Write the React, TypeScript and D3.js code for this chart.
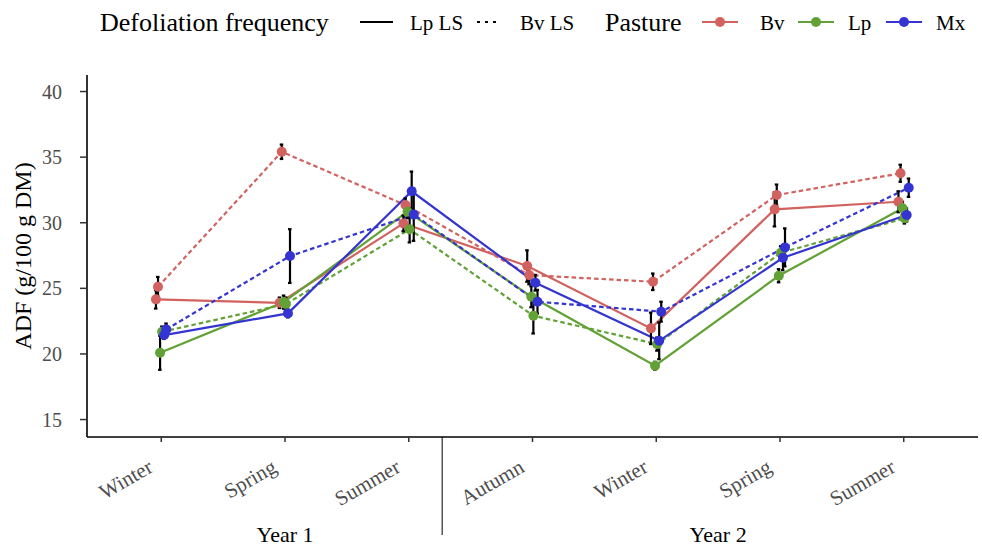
import React from "react";
import * as d3 from "d3";

// ---- data ----
const seasons = ["Winter", "Spring", "Summer", "Autumn", "Winter", "Spring", "Summer"];
const years = ["Year 1", "Year 2"];
const yearStart = [0, 3];
const yearEnd = [2, 6];
const yTicks = [15, 20, 25, 30, 35, 40];

const pastures = ["Bv", "Lp", "Mx"];
const pastureColors = ["#d2625f", "#62a136", "#3434d2"];
const defoliations = ["Lp LS", "Bv LS"];

// ADF means (g/100 g DM)
const bvLpLS = [24.16, 23.9, 29.95, 26.7, 21.95, 31.02, 31.6];
const bvBvLS = [25.12, 35.41, 31.35, 26.01, 25.5, 32.11, 33.77];
const lpLpLS = [20.09, 23.95, 30.84, 24.36, 19.1, 25.96, 31.1];
const lpBvLS = [21.69, 23.8, 29.5, 22.91, 20.75, 27.71, 30.34];
const mxLpLS = [21.44, 23.09, 32.4, 25.43, 21.0, 27.33, 30.59];
const mxBvLS = [21.87, 27.46, 30.62, 23.98, 23.22, 28.12, 32.67];

// standard errors
const bvLpLSse = [0.7, 0.4, 0.6, 1.2, 1.2, 1.3, 0.8];
const bvBvLSse = [0.75, 0.55, 0.5, 0.7, 0.63, 0.8, 0.65];
const lpLpLSse = [1.3, 0.5, 0.5, 0.8, 0.3, 0.5, 0.5];
const lpBvLSse = [0.4, 0.5, 1.0, 1.35, 0.5, 0.5, 0.4];
const mxLpLSse = [0.3, 0.3, 1.5, 0.6, 1.4, 0.95, 0.5];
const mxBvLSse = [0.45, 2.05, 2.0, 0.9, 0.76, 1.45, 0.7];

const series = [
  { key: "Bv-LpLS", pasture: 0, defol: 0, values: bvLpLS, se: bvLpLSse },
  { key: "Bv-BvLS", pasture: 0, defol: 1, values: bvBvLS, se: bvBvLSse },
  { key: "Lp-LpLS", pasture: 1, defol: 0, values: lpLpLS, se: lpLpLSse },
  { key: "Lp-BvLS", pasture: 1, defol: 1, values: lpBvLS, se: lpBvLSse },
  { key: "Mx-LpLS", pasture: 2, defol: 0, values: mxLpLS, se: mxLpLSse },
  { key: "Mx-BvLS", pasture: 2, defol: 1, values: mxBvLS, se: mxBvLSse },
];

const FONT = "'Liberation Serif', 'Times New Roman', serif";
const W = 982;
const H = 549;
const plotLeft = 87;
const plotRight = 978;
const plotTop = 75;
const plotBottom = 437;
const DOT = "4.5,3";

export default function App() {
  const idx = d3.range(seasons.length);
  const x = d3.scalePoint<number>().domain(idx).range([plotLeft, plotRight]).padding(0.6);
  const step = x.step();
  const y = d3.scaleLinear().domain([13.67, 41.26]).range([plotBottom, plotTop]);
  const dodge = d3.scalePoint<string>().domain(series.map((s) => s.key)).range([-5.3, 5.0]);

  const sepX = (x(2) as number) + 0.27 * step;

  return (
    <svg
      width={W}
      height={H}
      style={{ position: "absolute", left: 0, top: 0, background: "#fff", fontFamily: FONT }}
    >
      <rect x={0} y={0} width={W} height={H} fill="#fff" />

      {/* legend */}
      <g>
        <text x={100} y={31} fontSize={26} fill="#000">Defoliation frequency</text>
        <line x1={360} x2={393} y1={22} y2={22} stroke="#000" strokeWidth={2.2} />
        <text x={410} y={30} fontSize={21} fill="#000">{defoliations[0]}</text>
        <line x1={477} x2={499} y1={22} y2={22} stroke="#000" strokeWidth={2.2} strokeDasharray="3,5" />
        <text x={520} y={30} fontSize={21} fill="#000">{defoliations[1]}</text>
        <text x={605} y={31} fontSize={26} fill="#000">Pasture</text>
        {pastures.map((p, i) => {
          const kx = [702, 798, 886][i];
          const tx = [760, 848, 936][i];
          return (
            <g key={p}>
              <line x1={kx} x2={kx + 36} y1={22} y2={22} stroke={pastureColors[i]} strokeWidth={2.2} />
              <circle cx={kx + 18} cy={22} r={5} fill={pastureColors[i]} />
              <text x={tx} y={30} fontSize={21} fill="#000">{p}</text>
            </g>
          );
        })}
      </g>

      {/* y axis */}
      <line x1={plotLeft} x2={plotLeft} y1={plotTop} y2={plotBottom} stroke="#000" strokeWidth={1.6} />
      {yTicks.map((t) => (
        <g key={t}>
          <line x1={plotLeft - 7} x2={plotLeft} y1={y(t)} y2={y(t)} stroke="#333" strokeWidth={1.5} />
          <text x={62} y={y(t)} dy="0.35em" textAnchor="end" fontSize={20} fill="#4d4d4d">{t}</text>
        </g>
      ))}
      <text
        transform={`translate(31,${(plotTop + plotBottom) / 2}) rotate(-90)`}
        textAnchor="middle"
        fontSize={24}
        fill="#000"
      >
        ADF (g/100 g DM)
      </text>

      {/* x axis */}
      <line x1={plotLeft} x2={plotRight} y1={plotBottom} y2={plotBottom} stroke="#000" strokeWidth={1.6} />
      {idx.map((i) => (
        <g key={i}>
          <line x1={x(i)} x2={x(i)} y1={plotBottom} y2={plotBottom + 5} stroke="#333" strokeWidth={1.5} />
          <text
            transform={`translate(${(x(i) as number) - 7},${471}) rotate(-30)`}
            textAnchor="end"
            fontSize={21}
            fill="#4d4d4d"
          >
            {seasons[i]}
          </text>
        </g>
      ))}
      <line x1={sepX} x2={sepX} y1={plotBottom} y2={535} stroke="#000" strokeWidth={1} />
      {years.map((yr, k) => (
        <text
          key={yr}
          x={((x(yearStart[k]) as number) + (x(yearEnd[k]) as number)) / 2}
          y={542}
          textAnchor="middle"
          fontSize={22}
          fill="#000"
        >
          {yr}
        </text>
      ))}

      {/* lines */}
      {series.map((s) => {
        const off = dodge(s.key) as number;
        const line = d3
          .line<number>()
          .x((_, i) => (x(i) as number) + off)
          .y((d) => y(d));
        return (
          <path
            key={s.key}
            d={line(s.values) || ""}
            fill="none"
            stroke={pastureColors[s.pasture]}
            strokeWidth={2.2}
            strokeDasharray={s.defol === 1 ? DOT : undefined}
          />
        );
      })}

      {/* error bars */}
      {series.map((s) => {
        const off = dodge(s.key) as number;
        return (
          <g key={s.key + "e"}>
            {s.values.map((v, i) => {
              const cx = (x(i) as number) + off;
              const y1 = y(v + s.se[i]);
              const y2 = y(v - s.se[i]);
              return (
                <g key={i} stroke="#000" strokeWidth={2.2}>
                  <line x1={cx} x2={cx} y1={y1} y2={y2} />
                  <line x1={cx - 2} x2={cx + 1.5} y1={y1} y2={y1} />
                  <line x1={cx - 2} x2={cx + 1.5} y1={y2} y2={y2} />
                </g>
              );
            })}
          </g>
        );
      })}

      {/* points */}
      {series.map((s) => {
        const off = dodge(s.key) as number;
        return (
          <g key={s.key + "p"}>
            {s.values.map((v, i) => (
              <circle key={i} cx={(x(i) as number) + off} cy={y(v)} r={5} fill={pastureColors[s.pasture]} />
            ))}
          </g>
        );
      })}
    </svg>
  );
}
